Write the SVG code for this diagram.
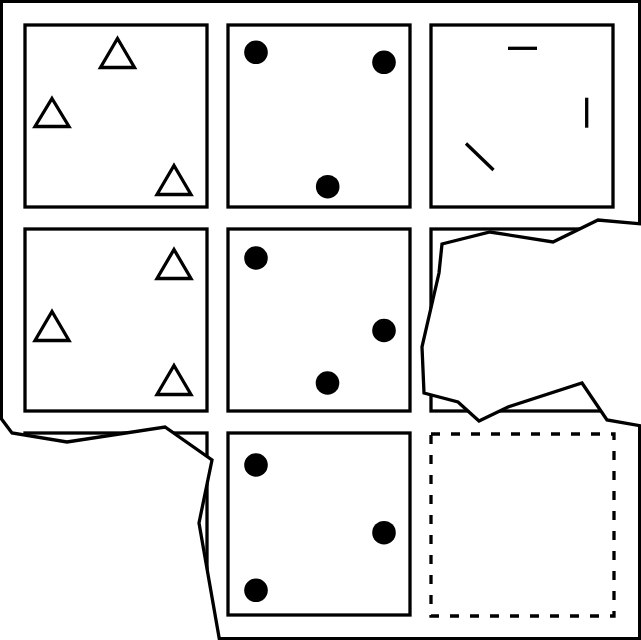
<svg xmlns="http://www.w3.org/2000/svg" width="641" height="640" viewBox="0 0 641 640">
<style>
.cell{fill:none;stroke:#000;stroke-width:3.3}
.dash{fill:none;stroke:#000;stroke-width:3.3;stroke-dasharray:9 11}
.tri{fill:none;stroke:#000;stroke-width:3.3}
.dot{fill:#000}
.ln{stroke:#000;stroke-width:3.3}
.tearfill{fill:#fff;stroke:none}
.tearline{fill:none;stroke:#000;stroke-width:3.3}
</style>
<rect width="641" height="640" fill="#fff"/>
<g id="frame">
<rect x="1.5" y="1.5" width="638" height="637" fill="#fff" stroke="#000" stroke-width="3"/>
</g>
<g id="cell-r1c1">
<rect class="cell" x="25" y="25" width="182" height="182"/>
<polygon class="tri" points="117.5,38.5 134.5,67.5 100.5,67.5"/>
<polygon class="tri" points="52,98.5 69,126.5 35,126.5"/>
<polygon class="tri" points="174,165.5 191,194.5 157,194.5"/>
</g>
<g id="cell-r1c2">
<rect class="cell" x="228" y="25" width="182" height="182"/>
<circle class="dot" cx="256" cy="52.3" r="11.8"/>
<circle class="dot" cx="384" cy="62.3" r="11.8"/>
<circle class="dot" cx="327.7" cy="186.7" r="11.8"/>
</g>
<g id="cell-r1c3">
<rect class="cell" x="431" y="25" width="182" height="182"/>
<line class="ln" x1="508" y1="48.3" x2="537" y2="48.3"/>
<line class="ln" x1="586.7" y1="97.7" x2="586.7" y2="127.7"/>
<line class="ln" x1="466" y1="143.5" x2="493.5" y2="170"/>
</g>
<g id="cell-r2c1">
<rect class="cell" x="25" y="229" width="182" height="182"/>
<polygon class="tri" points="174,249.5 191,278.5 157,278.5"/>
<polygon class="tri" points="52,311.5 69,340.5 35,340.5"/>
<polygon class="tri" points="174,365.5 191,394.5 157,394.5"/>
</g>
<g id="cell-r2c2">
<rect class="cell" x="228" y="229" width="182" height="182"/>
<circle class="dot" cx="256" cy="258" r="11.8"/>
<circle class="dot" cx="384" cy="330.5" r="11.8"/>
<circle class="dot" cx="327.5" cy="383" r="11.8"/>
</g>
<g id="cell-r2c3">
<rect class="cell" x="431" y="229" width="182" height="182"/>
</g>
<g id="cell-r3c1">
<rect class="cell" x="25" y="433" width="182" height="182"/>
</g>
<g id="cell-r3c2">
<rect class="cell" x="228" y="433" width="182" height="182"/>
<circle class="dot" cx="256" cy="465" r="11.8"/>
<circle class="dot" cx="384" cy="532.7" r="11.8"/>
<circle class="dot" cx="256" cy="590.3" r="11.8"/>
</g>
<g id="cell-r3c4-missing">
<rect class="dash" x="431" y="434" width="183" height="182"/>
</g>
<g id="tear-right">
<polygon class="tearfill" points="641,224 598,220 553,242 490,232 442,244 439,273 422,347 424,393 458,402 479,421 508,407 582,383 607,420 641,426 660,426 660,224"/>
<polyline class="tearline" points="642,224 598,220 553,242 490,232 442,244 439,273 422,347 424,393 458,402 479,421 508,407 582,383 607,420 642,426"/>
</g>
<g id="tear-left">
<polygon class="tearfill" points="1.5,420 12,433 67,442 165,427 212,460 199,523 220,640 220,660 -20,660 -20,420"/>
<polyline class="tearline" points="1.5,419 12,433 67,442 165,427 212,460 199,523 219.5,640"/>
</g>
</svg>
